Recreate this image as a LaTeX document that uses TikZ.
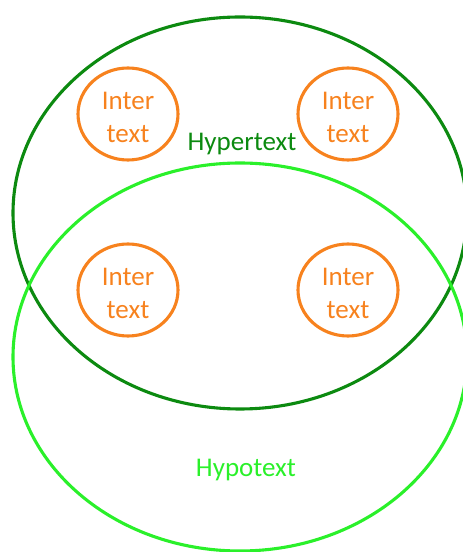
\documentclass[tikz,border=0pt]{standalone}
\usepackage{fontspec}
\setmainfont{Carlito}
\usetikzlibrary{shapes.geometric}
\definecolor{hyperc}{HTML}{0C8A10}
\definecolor{hypoc}{HTML}{2AF02A}
\definecolor{interc}{HTML}{F7821E}
\begin{document}
\begin{tikzpicture}[x=1pt,y=1pt,
  setring/.style={draw, ellipse, line width=3.1pt, inner sep=0pt},
  interring/.style={draw=interc, ellipse, line width=3.1pt, minimum width=100pt, minimum height=92pt, inner sep=0pt},
  intertext/.style={text=interc, font=\fontsize{27}{33}\selectfont, align=center, inner sep=0pt},
  setlabel/.style={font=\fontsize{27}{33}\selectfont, anchor=base, inner sep=0pt}]
\useasboundingbox (0,0) rectangle (463,552);
% the two overlapping sets
\node[setring, draw=hyperc, minimum width=454pt, minimum height=392pt] (hyper) at (240,339) {};
\node[setring, draw=hypoc, minimum width=454pt, minimum height=388pt] (hypo) at (240,195) {};
% set names
\node[setlabel, text=hyperc] (hyperlbl) at (242,401) {Hypertext};
\node[setlabel, text=hypoc] (hypolbl) at (246,75) {Hypotext};
% intertexts
\node[interring] (r1) at (128,438) {};
\node[interring] (r2) at (348,438) {};
\node[interring] (r3) at (128,262) {};
\node[interring] (r4) at (348,262) {};
\node[intertext] (t1) at ([yshift=-3pt]r1.center) {Inter\\text};
\node[intertext] (t2) at ([yshift=-3pt]r2.center) {Inter\\text};
\node[intertext] (t3) at ([yshift=-3pt]r3.center) {Inter\\text};
\node[intertext] (t4) at ([yshift=-3pt]r4.center) {Inter\\text};
\end{tikzpicture}
\end{document}
